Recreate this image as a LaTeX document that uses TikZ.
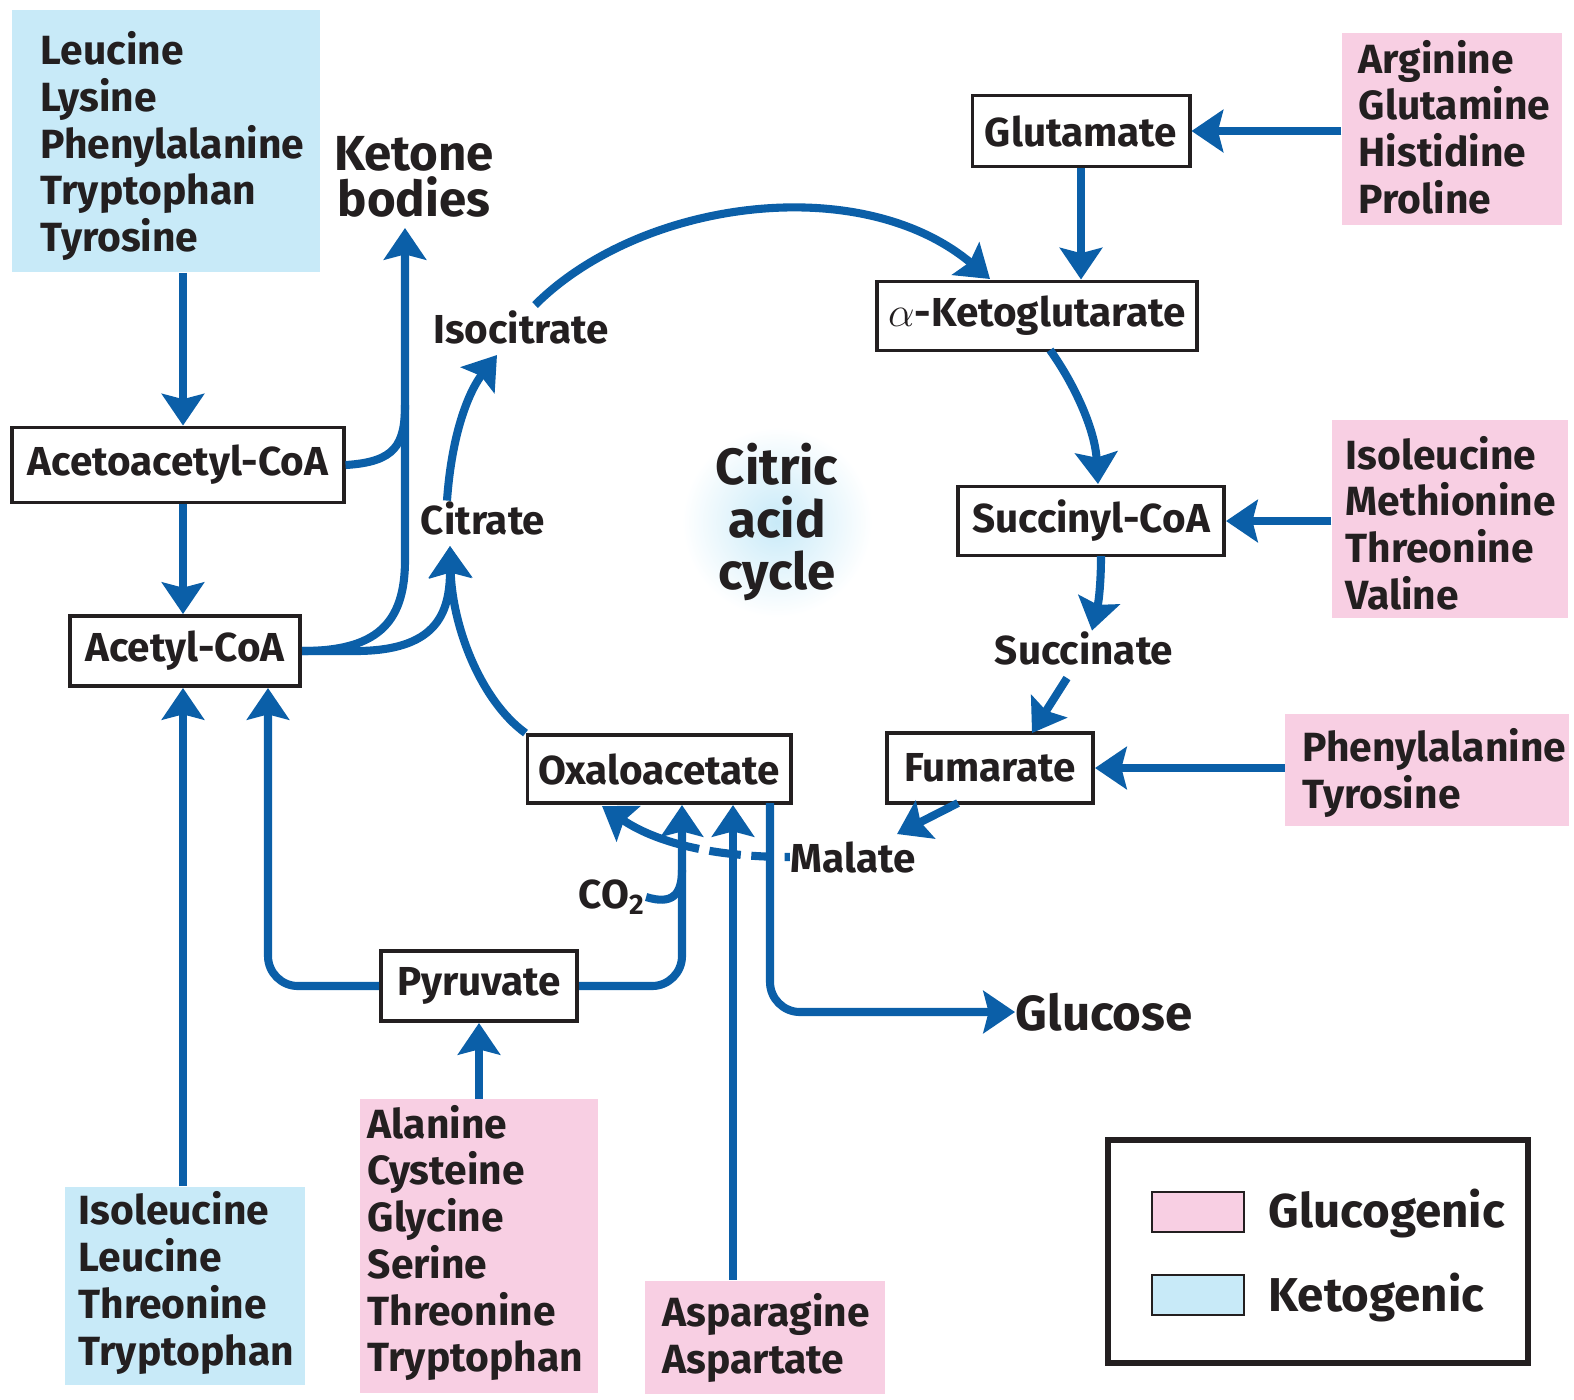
\documentclass[tikz,border=0pt]{standalone}
\usepackage{fontspec}
\setmainfont{Fira Sans}
\usetikzlibrary{arrows.meta}
\definecolor{pathBlue}{HTML}{0B5FA8}
\definecolor{aminoGluco}{HTML}{F8CFE3}
\definecolor{aminoKeto}{HTML}{C8EAF8}
\definecolor{inkDark}{HTML}{231F20}
\tikzset{
  flowline/.style={draw=pathBlue, line width=2.3pt},
  flow/.style={flowline, -{Stealth[length=9pt,width=12pt,inset=1.5pt]}},
  metabox/.style={draw=inkDark, line width=1.1pt, fill=white, inner sep=0pt,
    font=\fontsize{11.5}{13}\selectfont\bfseries, text=inkDark},
  metatext/.style={inner sep=0pt, font=\fontsize{11.5}{13}\selectfont\bfseries, text=inkDark},
  glucobox/.style={fill=aminoGluco, inner sep=0pt},
  ketobox/.style={fill=aminoKeto, inner sep=0pt},
  aminolist/.style={anchor=west, align=left, inner sep=0pt,
    font=\fontsize{11.6}{13.3}\selectfont\bfseries, text=inkDark},
  bigtext/.style={inner sep=0pt, align=center, font=\fontsize{14}{13.2}\selectfont\bfseries, text=inkDark},
  swatch/.style={draw=inkDark, line width=0.8pt, minimum width=0.92cm, minimum height=0.4cm, inner sep=0pt}
}
\begin{document}
\begin{tikzpicture}[x=0.01cm, y=-0.01cm]
\useasboundingbox (0,0) rectangle (1574,1399);

% glow behind the cycle name
\shade[inner color=aminoKeto, outer color=white] (777,522) circle (95);

% amino acid groups
\node[ketobox, minimum width=3.08cm, minimum height=2.62cm] (ketoTop) at (166,141) {};
\node[aminolist] at (40,146) {Leucine\\Lysine\\Phenylalanine\\Tryptophan\\Tyrosine};
\node[ketobox, minimum width=2.40cm, minimum height=1.98cm] (ketoBot) at (185,1286) {};
\node[aminolist] at (78,1283) {Isoleucine\\Leucine\\Threonine\\Tryptophan};
\node[glucobox, minimum width=2.20cm, minimum height=1.92cm] (glucoGlu) at (1452,129) {};
\node[aminolist] at (1358,127) {Arginine\\Glutamine\\Histidine\\Proline};
\node[glucobox, minimum width=2.36cm, minimum height=1.98cm] (glucoSuc) at (1450,519) {};
\node[aminolist] at (1345,523) {Isoleucine\\Methionine\\Threonine\\Valine};
\node[glucobox, minimum width=2.83cm, minimum height=1.11cm] (glucoFum) at (1427,770) {};
\node[aminolist] at (1302,773) {Phenylalanine\\Tyrosine};
\node[glucobox, minimum width=2.38cm, minimum height=2.93cm] (glucoPyr) at (479,1246) {};
\node[aminolist] at (367,1243) {Alanine\\Cysteine\\Glycine\\Serine\\Threonine\\Tryptophan};
\node[glucobox, minimum width=2.39cm, minimum height=1.13cm] (glucoOaa) at (765,1337) {};
\node[aminolist] at (662,1338) {Asparagine\\Aspartate};

% intermediates
\node[metabox, minimum width=2.17cm, minimum height=0.71cm] (glutamate) at (1081,131) {Glutamate};
\node[metabox, minimum width=3.20cm, minimum height=0.69cm] (akg) at (1037,316) {$\alpha$-Ketoglutarate};
\node[metabox, minimum width=3.31cm, minimum height=0.75cm] (acetoacetyl) at (178,465) {Acetoacetyl-CoA};
\node[metabox, minimum width=2.66cm, minimum height=0.69cm] (succinyl) at (1091,521) {Succinyl-CoA};
\node[metabox, minimum width=2.30cm, minimum height=0.70cm] (acetyl) at (185,651) {Acetyl-CoA};
\node[metabox, minimum width=2.63cm, minimum height=0.68cm] (oxalo) at (659,769) {Oxaloacetate};
\node[metabox, minimum width=2.06cm, minimum height=0.70cm] (fumarate) at (990,768) {Fumarate};
\node[metabox, minimum width=1.96cm, minimum height=0.70cm] (pyruvate) at (479,986) {Pyruvate};

\node[metatext] (isocitrate) at (521,327) {Isocitrate};
\node[metatext] (citrate) at (483,518) {Citrate};
\node[metatext] (succinate) at (1084,648) {Succinate};
\node[metatext] (malate) at (853,857) {Malate};
\node[metatext] (co2) at (612,897) {CO\textsubscript{2}};
\node[bigtext] (ketone) at (414,177) {Ketone\\bodies};
\node[bigtext, font=\fontsize{14.5}{14.8}\selectfont\bfseries] (cycle) at (777,522) {Citric\\acid\\cycle};
\node[bigtext, anchor=west] (glucose) at (1015,1012) {Glucose};

% fixed ends
\coordinate (leftCol) at (183,0);
\coordinate (kbTip) at (405,228);
\coordinate (citTip) at (450,546);
\coordinate (isoTip) at (497,355);
\coordinate (akgTip) at (990,279);
\coordinate (sucTip) at (1098,484);
\coordinate (oxPyr) at (682,805);
\coordinate (oxAsp) at (733,805);
\coordinate (oxOut) at (770,803);
\coordinate (acPyr) at (268,688);

% pathways
\draw[flow] (ketoTop.south -| leftCol) -- (acetoacetyl.north -| leftCol);
\draw[flow] (acetoacetyl.south -| leftCol) -- (acetyl.north -| leftCol);
\draw[flowline] (acetoacetyl.east) .. controls (395,462) and (405,445) .. (405,405);
\draw[flow] (acetyl.east) .. controls (375,651) and (405,625) .. (405,560) -- (kbTip);
\draw[flow] (acetyl.east) -- (355,651) .. controls (435,651) and (450,615) .. (citTip);
\draw[flow] (oxalo.north west) .. controls (480,700) and (452,625) .. (citTip);
\draw[flow] (citrate.north -| 447,0) .. controls (452,430) and (470,390) .. (isoTip);
\draw[flow] (535,305) .. controls (640,200) and (860,170) .. (akgTip);
\draw[flow] (glutamate.south) -- (glutamate.south |- akg.north);
\draw[flow] (glucoGlu.west |- glutamate.east) -- (glutamate.east);
\draw[flow] (1050,350) .. controls (1075,385) and (1095,430) .. (sucTip);
\draw[flow] (glucoSuc.west |- succinyl.east) -- (succinyl.east);
\draw[flow] (1101,556) .. controls (1101,580) and (1099,600) .. (succinate.north -| 1092,0);
\draw[flow] (1067,678) -- (1032,733);
\draw[flow] (glucoFum.west |- fumarate.east) -- (fumarate.east);
\draw[flow] (958,803) -- (897,834);
\draw[flow, dash pattern=on 1.5pt off 3.5pt on 6pt off 3pt on 9pt off 3pt on 100pt] (malate.west) .. controls (720,857) and (660,845) .. (602,806);
\draw[flow, rounded corners=0.3cm] (pyruvate.east) -| (oxPyr);
\draw[flowline] (co2.east) .. controls (672,905) and (682,895) .. (682,870);
\draw[flow, rounded corners=0.3cm] (pyruvate.west) -| (acPyr);
\draw[flow] (ketoBot.north -| leftCol) -- (acetyl.south -| leftCol);
\draw[flow] (glucoPyr.north) -- (pyruvate.south);
\draw[flow] (glucoOaa.north -| oxAsp) -- (oxAsp);
\draw[flow, rounded corners=0.3cm] (oxOut) |- (glucose.west);

% legend
\draw[inkDark, line width=1.6pt] (1108,1140) rectangle (1528,1363);
\node[swatch, fill=aminoGluco] (legGluco) at (1198,1212) {};
\node[bigtext, anchor=west, font=\fontsize{13.5}{13}\selectfont\bfseries] at (1268,1213) {Glucogenic};
\node[swatch, fill=aminoKeto] (legKeto) at (1198,1295) {};
\node[bigtext, anchor=west, font=\fontsize{13.5}{13}\selectfont\bfseries] at (1268,1297) {Ketogenic};
\end{tikzpicture}
\end{document}
